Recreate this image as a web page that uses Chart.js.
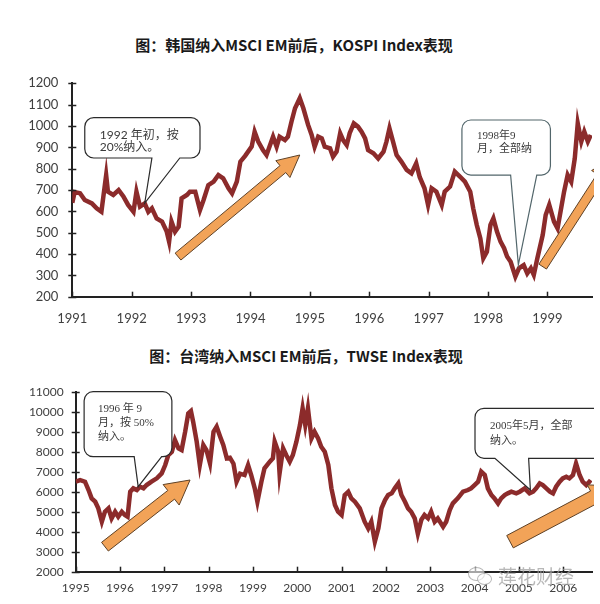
<!DOCTYPE html>
<html>
<head>
<meta charset="utf-8">
<script src="https://cdn.jsdelivr.net/npm/chart.js@4.4.1/dist/chart.umd.min.js"></script>
<style>
  body { margin: 0; width: 600px; height: 604px; background: #fff; position: relative; overflow: hidden; }
  .title { position: absolute; transform: translateX(-50%); white-space: nowrap;
           font-family: "Noto Sans CJK SC", sans-serif; font-weight: bold; font-size: 15px;
           line-height: 20px; color: #1a1a1a; }
  canvas { position: absolute; left: 0; }
  #wm { position: absolute; left: 466px; top: 563px; height: 26px; white-space: nowrap;
        font-family: "Noto Sans CJK SC", sans-serif; font-size: 19px; color: rgba(160,160,160,0.75); }
  #wm .b1, #wm .b2 { position: absolute; border: 1.5px solid rgba(160,160,160,0.75); border-radius: 50%; background: rgba(255,255,255,0.6); }
  #wm .b1 { left: 2px; top: 4px; width: 15px; height: 12px; }
  #wm .b2 { left: 11px; top: 10px; width: 13px; height: 10px; }
  #wm span.t { position: absolute; left: 32px; top: -1px; }
</style>
</head>
<body>
<div class="title" style="left:294px; top:35px;">图：韩国纳入MSCI EM前后，KOSPI Index表现</div>
<div class="title" style="left:306px; top:346px;">图：台湾纳入MSCI EM前后，TWSE Index表现</div>
<canvas id="kospi" width="600" height="275" style="top:60px"></canvas>
<canvas id="twse" width="600" height="239" style="top:365px"></canvas>
<div id="wm"><div class="b1"></div><div class="b2"></div><span class="t">莲花财经</span></div>
<script>
// KOSPI (decimal year, index level)
const kospiYears = [1991.00,1991.04,1991.13,1991.21,1991.33,1991.41,1991.49,1991.57,1991.60,1991.69,1991.78,1991.86,1991.94,
  1992.03,1992.08,1992.14,1992.22,1992.28,1992.34,1992.42,1992.51,1992.59,1992.63,1992.67,1992.73,1992.79,1992.84,1992.93,1992.98,
  1993.07,1993.15,1993.21,1993.29,1993.38,1993.46,1993.54,1993.63,1993.69,1993.77,1993.83,1993.91,
  1994.02,1994.07,1994.13,1994.21,1994.27,1994.33,1994.38,1994.44,1994.49,1994.58,1994.63,1994.69,1994.75,1994.83,1994.89,1994.97,
  1995.03,1995.08,1995.14,1995.20,1995.25,1995.34,1995.39,1995.45,1995.51,1995.56,1995.62,1995.67,1995.74,1995.81,1995.87,1995.93,1995.98,
  1996.07,1996.15,1996.24,1996.29,1996.34,1996.40,1996.46,1996.54,1996.63,1996.71,1996.79,1996.85,1996.93,1996.99,
  1997.05,1997.13,1997.22,1997.27,1997.36,1997.44,1997.53,1997.61,1997.70,1997.75,1997.81,1997.87,1997.92,1997.98,
  1998.04,1998.09,1998.15,1998.21,1998.27,1998.32,1998.38,1998.46,1998.52,1998.60,1998.66,1998.72,1998.77,1998.83,1998.92,1998.97,
  1999.03,1999.11,1999.17,1999.23,1999.28,1999.34,1999.40,1999.46,1999.51,1999.57,1999.62,1999.68,1999.73];
const kospiValues = [640,690,685,653,637,614,598,770,692,677,700,670,630,
  598,692,622,637,598,614,567,552,505,458,552,505,528,661,677,692,
  692,606,653,723,739,770,755,708,684,739,833,860,
  903,973,927,887,864,911,950,903,950,934,950,1020,1083,1130,1083,1005,
  958,903,950,942,903,895,856,880,966,934,911,966,1012,997,973,942,887,
  872,848,880,927,989,927,864,833,794,778,825,760,708,630,
  708,692,630,692,716,786,762,739,692,614,536,473,380,411,
  536,567,505,458,427,388,364,294,333,348,309,333,302,380,489,583,
  630,552,520,614,692,770,739,848,1012,927,973,927,958];
const kospiXTicks = [1991,1992,1993,1994,1995,1996,1997,1998,1999];

// TWSE
const twseYears = [1995.00,1995.10,1995.21,1995.29,1995.36,1995.44,1995.51,1995.59,1995.66,1995.74,1995.81,1995.89,1995.96,
  1996.04,1996.11,1996.17,1996.23,1996.30,1996.38,1996.45,1996.53,1996.60,1996.71,1996.83,1996.94,
  1997.02,1997.09,1997.17,1997.24,1997.32,1997.39,1997.47,1997.54,1997.60,1997.65,1997.73,1997.80,1997.88,1997.95,
  1998.03,1998.11,1998.18,1998.26,1998.33,1998.41,1998.48,1998.56,1998.63,1998.71,1998.81,1998.89,1998.96,
  1999.04,1999.10,1999.19,1999.26,1999.38,1999.45,1999.49,1999.57,1999.60,1999.68,1999.75,1999.83,1999.90,1999.98,
  2000.06,2000.12,2000.18,2000.24,2000.32,2000.39,2000.47,2000.54,2000.62,2000.70,2000.77,2000.85,2000.92,2001.00,
  2001.07,2001.15,2001.22,2001.30,2001.41,2001.52,2001.60,2001.67,2001.75,2001.83,2001.90,2001.98,
  2002.05,2002.13,2002.20,2002.28,2002.35,2002.43,2002.50,2002.57,2002.65,2002.72,2002.80,2002.87,2002.95,
  2003.02,2003.10,2003.17,2003.29,2003.36,2003.44,2003.51,2003.62,2003.74,2003.85,2003.92,
  2004.00,2004.08,2004.15,2004.23,2004.30,2004.38,2004.45,2004.53,2004.60,2004.68,2004.75,2004.83,2004.94,
  2005.02,2005.13,2005.24,2005.32,2005.39,2005.47,2005.54,2005.62,2005.70,2005.77,2005.84,2005.92,2005.99,
  2006.07,2006.14,2006.22,2006.29,2006.37,2006.44,2006.52,2006.59,2006.62];
const twseValues = [6500,6583,6500,6083,5667,5500,5167,4500,5000,5167,4667,5000,4750,
  5000,4833,4750,6000,6167,6083,6250,6167,6333,6500,6667,6917,
  7333,7833,8000,8583,8167,8083,9000,9917,10033,9500,8500,7333,8333,8083,
  7417,9000,9250,8750,8333,7667,7700,7400,6500,6900,6833,7333,6833,
  6167,5500,6500,7167,7500,7667,8500,8000,6917,8167,7833,7500,7833,8500,
  9333,10167,9333,10167,8667,9000,8667,8250,8000,7333,6167,5333,5000,4833,
  5833,6000,5667,5500,5167,4500,4167,4500,3500,4167,5167,5583,
  5833,5917,6167,6417,5833,5500,5167,5000,4667,3900,4600,4833,4667,
  5000,4500,4667,4250,4500,5083,5417,5667,6000,6083,6167,
  6333,6500,7000,6833,6167,5833,5667,5417,5667,5833,5917,6000,5917,
  6000,6167,5917,6000,6167,6417,6333,6167,6000,5917,6250,6500,6667,
  6750,6667,6833,7417,6833,6500,6333,6500,6583];
const twseXTicks = [1995,1996,1997,1998,1999,2000,2001,2002,2003,2004,2005,2006];

// callouts and arrows, placed in data coordinates
const kospiNotes = [
  { lines: ["1992 年初，按", "20%纳入。"], box: [1991.21, 1039, 1993.15, 850], base: [1992.34, 1992.81], tip: [1992.22, 639],
    font: "12px Lato, 'Noto Sans CJK SC'", dx: 15, dy: 17, lh: 12, stroke: "#2a2a2a" },
  { lines: ["1998年9", "月，全部纳"], box: [1997.56, 1028, 1999.05, 770], base: [1998.38, 1998.82], tip: [1998.51, 349],
    font: "11px 'Liberation Serif', 'Noto Sans CJK SC'", dx: 15, dy: 16, lh: 13.5, stroke: "#52666b" }
];
const kospiArrows = [
  { from: [1992.78, 388], to: [1994.83, 864], shaft: 4.5, head: 11, len: 22 },
  { from: [1998.92, 341], to: [2000.1, 850], shaft: 4.5, head: 11, len: 22 }
];
const twseNotes = [
  { lines: ["1996 年 9", "月，按 50%", "纳入。"], box: [1995.19, 11000, 1997.17, 7750], base: [1996.32, 1996.94], tip: [1996.41, 6250],
    font: "11px 'Liberation Serif', 'Noto Sans CJK SC'", dx: 14, dy: 17, lh: 14, stroke: "#2a2a2a" },
  { lines: ["2005年5月，全部", "纳入。"], box: [2004.01, 10170, 2007.3, 7670], base: [2004.46, 2005.22], tip: [2005.26, 6085],
    font: "11px 'Liberation Serif', 'Noto Sans CJK SC'", dx: 15, dy: 18, lh: 15, stroke: "#2a2a2a" }
];
const twseArrows = [
  { from: [1995.66, 3250], to: [1997.58, 6585], shaft: 5.5, head: 13, len: 24 },
  { from: [2004.80, 3500], to: [2007.17, 6285], shaft: 7, head: 14, len: 24 }
];

function calloutPath(ctx, x0, y0, x1, y1, r, b1, b2, tx, ty) {
  ctx.beginPath();
  ctx.moveTo(x0 + r, y0);
  ctx.lineTo(x1 - r, y0); ctx.arcTo(x1, y0, x1, y0 + r, r);
  ctx.lineTo(x1, y1 - r); ctx.arcTo(x1, y1, x1 - r, y1, r);
  ctx.lineTo(b2, y1); ctx.lineTo(tx, ty); ctx.lineTo(b1, y1);
  ctx.lineTo(x0 + r, y1); ctx.arcTo(x0, y1, x0, y1 - r, r);
  ctx.lineTo(x0, y0 + r); ctx.arcTo(x0, y0, x0 + r, y0, r);
  ctx.closePath();
}

function arrowPath(ctx, ax, ay, bx, by, w, h, L) {
  const d = Math.hypot(bx - ax, by - ay), ux = (bx - ax) / d, uy = (by - ay) / d;
  const nx = -uy, ny = ux, cx = bx - ux * L, cy = by - uy * L;
  ctx.beginPath();
  ctx.moveTo(ax + nx * w, ay + ny * w);
  ctx.lineTo(cx + nx * w, cy + ny * w);
  ctx.lineTo(cx + nx * h, cy + ny * h);
  ctx.lineTo(bx, by);
  ctx.lineTo(cx - nx * h, cy - ny * h);
  ctx.lineTo(cx - nx * w, cy - ny * w);
  ctx.lineTo(ax - nx * w, ay - ny * w);
  ctx.closePath();
}

// axis tick marks (they sit on the inside / cross the axis, Excel style)
const tickMarks = {
  id: "tickMarks",
  afterDraw(chart) {
    const { ctx, chartArea, scales: { x, y } } = chart;
    ctx.save();
    ctx.strokeStyle = "#222"; ctx.lineWidth = 1.5;
    y.ticks.forEach(t => {
      const py = Math.round(y.getPixelForValue(t.value)) + 0.5;
      ctx.beginPath(); ctx.moveTo(chartArea.left - 4, py); ctx.lineTo(chartArea.left + 4, py); ctx.stroke();
    });
    x.ticks.forEach(t => {
      const px = Math.round(x.getPixelForValue(t.value)) + 0.5;
      ctx.beginPath(); ctx.moveTo(px, chartArea.bottom - 5); ctx.lineTo(px, chartArea.bottom); ctx.stroke();
    });
    ctx.restore();
  }
};

const notesPlugin = {
  id: "notes",
  afterDatasetsDraw(chart, args, opts) {
    const { ctx, chartArea, scales: { x, y } } = chart;
    const X = v => x.getPixelForValue(v), Y = v => y.getPixelForValue(v);
    ctx.save();
    ctx.beginPath(); ctx.rect(0, 0, chartArea.right + 2, chart.height); ctx.clip();
    opts.arrows.forEach(a => {
      arrowPath(ctx, X(a.from[0]), Y(a.from[1]), X(a.to[0]), Y(a.to[1]), a.shaft, a.head, a.len);
      ctx.fillStyle = "#f2a358"; ctx.fill();
      ctx.strokeStyle = "#5e4126"; ctx.lineWidth = 1; ctx.stroke();
    });
    opts.notes.forEach(n => {
      const x0 = X(n.box[0]), y0 = Y(n.box[1]), x1 = X(n.box[2]), y1 = Y(n.box[3]);
      calloutPath(ctx, x0, y0, x1, y1, 9, X(n.base[0]), X(n.base[1]), X(n.tip[0]), Y(n.tip[1]));
      ctx.fillStyle = "#fff"; ctx.fill();
      ctx.strokeStyle = n.stroke; ctx.lineWidth = 1.2; ctx.stroke();
      ctx.fillStyle = "#3a3a3a"; ctx.font = n.font; ctx.textBaseline = "middle"; ctx.textAlign = "left";
      n.lines.forEach((s, i) => ctx.fillText(s, x0 + n.dx, y0 + n.dy + i * n.lh));
    });
    ctx.restore();
  }
};

function makeChart(id, years, values, xTicks, xmin, xmax, ymin, ymax, ystep, fontSize, pad, yWidth, xHeight, labelPad, notes, arrows) {
  return new Chart(document.getElementById(id), {
    type: "line",
    data: {
      datasets: [{
        data: years.map((yr, i) => ({ x: yr, y: values[i] })),
        borderColor: "#8c2b2b",
        borderWidth: 4.5,
        pointRadius: 0,
        tension: 0,
        borderJoinStyle: "miter"
      }]
    },
    options: {
      responsive: false,
      animation: false,
      devicePixelRatio: 1,
      layout: { padding: pad },
      plugins: { legend: { display: false }, tooltip: { enabled: false }, notes: { notes, arrows } },
      scales: {
        x: {
          type: "linear", min: xmin, max: xmax,
          grid: { display: false, drawTicks: false },
          border: { display: true, color: "#222", width: 2 },
          afterBuildTicks: s => { s.ticks = xTicks.map(v => ({ value: v })); },
          afterFit: s => { s.height = xHeight; },
          ticks: { autoSkip: false, maxRotation: 0, padding: labelPad.x, color: "#404040",
                   font: { family: "Lato", size: fontSize }, callback: v => String(v) }
        },
        y: {
          min: ymin, max: ymax,
          grid: { display: false, drawTicks: false },
          border: { display: true, color: "#222", width: 2 },
          afterFit: s => { s.width = yWidth; },
          ticks: { stepSize: ystep, padding: labelPad.y, color: "#404040",
                   font: { family: "Lato", size: fontSize }, callback: v => String(v) }
        }
      }
    },
    plugins: [tickMarks, notesPlugin]
  });
}

makeChart("kospi", kospiYears, kospiValues, kospiXTicks, 1991, 1999.75, 200, 1200, 100, 13,
  { left: 0, right: 8, top: 23.3, bottom: 0 }, 72.3, 38.3, { x: 14, y: 14 }, kospiNotes, kospiArrows);
makeChart("twse", twseYears, twseValues, twseXTicks, 1995, 2006.65, 2000, 11000, 1000, 12,
  { left: 0, right: 8, top: 26.7, bottom: 0 }, 75.7, 32.3, { x: 9, y: 12 }, twseNotes, twseArrows);
</script>
</body>
</html>
